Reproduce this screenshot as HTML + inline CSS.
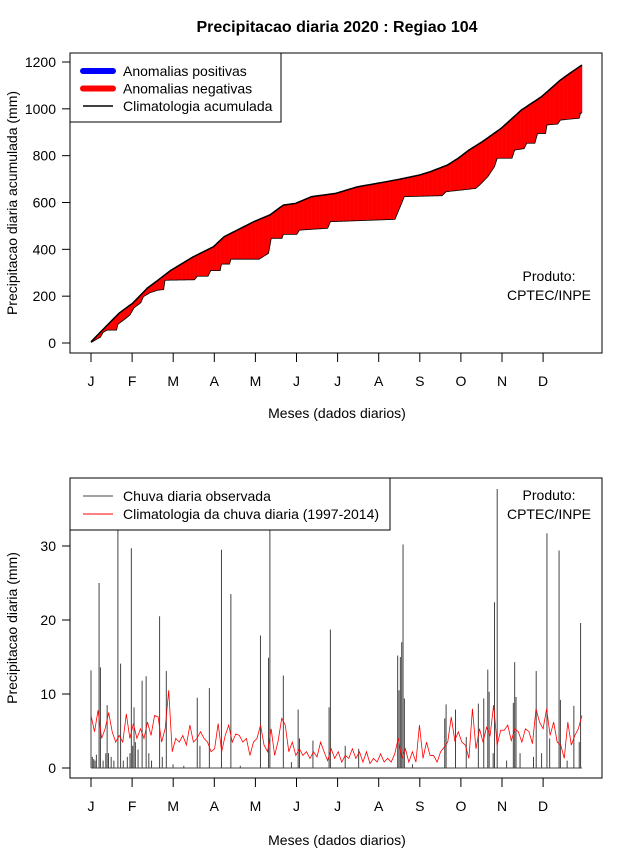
<!DOCTYPE html>
<html><head><meta charset="utf-8"><style>
body{margin:0;background:#fff;}
svg{display:block;font-family:"Liberation Sans",Arial,sans-serif;}
</style></head><body>
<svg id="c" width="640" height="850" xmlns="http://www.w3.org/2000/svg"></svg>
<script>
// ---------- DATA ----------
const monthLabels=["J","F","M","A","M","J","J","A","S","O","N","D"];
const topTicks=[0,200,400,600,800,1000,1200];
const botTicks=[0,10,20,30];
// climatology accumulated (days / mm)
const climAccDays=[1,12,22,32,43,51,60,77,92,100,122,134,144,153,165,183,199,214,230,245,253,266,274,282,292,306,321,336,350,357,366];
const climAccVals=[5,70,128,170,235,269,309,368,411,454,518,547,589,596,625,639,667,682,699,717,731,760,789,824,860,917,995,1052,1123,1152,1187];
// observed accumulated
const obsAccDays=[1,8,10,13,20,21,28,30,33,38,40,45,49,50,55,56,78,80,88,90,97,98,104,105,126,133,135,143,144,154,156,177,179,227,234,262,265,287,290,296,301,303,314,316,323,325,331,333,339,340,348,350,364,365,366];
const obsAccVals=[2,25,45,55,55,80,110,120,150,172,198,215,222,225,228,268,270,285,285,309,309,337,337,358,358,383,447,447,464,464,482,490,518,528,625,629,646,660,675,710,753,789,789,824,830,853,853,895,895,931,935,952,960,982,982];
// daily observed rain
const rainDays=[1,2,3,4,5,7,8,10,12,13,14,16,18,21,23,25,28,30,31,32,33,34,36,39,42,44,46,52,54,57,62,70,80,82,89,98,105,112,127,133,134,144,150,155,156,166,178,179,190,200,229,230,231,232,233,234,240,264,265,272,280,289,293,296,297,300,301,303,310,315,316,317,320,330,332,336,340,342,349,350,355,360,364,365];
const rainVals=[13.2,1.5,1.2,1,1.8,25,13.6,1,2,8.5,2,1.5,1,40,14.1,1,1.5,2,29.7,3,8.2,3.5,2.5,11.8,12.4,2,1,20.5,1.5,13.1,0.5,0.3,9.5,3,10.8,29.5,23.5,0.3,17.9,14.9,40,12.5,0.8,7.9,4,3.7,8.2,18.7,3,2.6,15.2,10.5,15,17,30.2,9.4,0.5,6.7,8.6,7.9,4.2,8.7,9.4,13.3,10.3,2,22.4,37.7,1,8.8,14.3,9.6,2,1.5,13.1,2,31.7,4,29.4,9.2,1,8.4,3.5,19.6];
// climatology daily rain (evenly spaced over year)
const climDaily=[7.1,4.9,7.8,4.0,5.3,7.5,4.9,3.5,4.4,3.5,7.3,4.0,6.0,4.0,5.3,4.0,6.2,4.4,7.1,6.9,3.5,5.3,10.5,2.2,4.0,3.5,4.4,3.1,5.8,3.5,4.0,4.9,4.0,3.5,2.2,2.6,6.0,2.2,4.4,5.8,3.5,4.6,4.4,3.5,4.0,1.7,3.5,4.0,5.8,3.1,2.2,5.3,1.7,3.7,6.7,5.8,2.2,3.5,1.7,2.6,1.7,2.2,1.3,2.2,1.5,3.5,2.2,1.0,2.6,1.3,2.2,0.8,1.7,1.3,2.6,1.3,2.2,0.8,2.2,0.6,1.3,0.8,1.9,0.8,1.3,0.8,1.9,4.0,1.3,2.6,0.8,2.2,0.8,5.8,1.3,3.5,1.7,1.7,0.8,2.2,2.8,3.5,6.9,3.7,4.9,3.5,3.1,1.3,8.0,2.6,5.3,3.5,5.5,4.4,8.5,3.1,5.1,5.1,5.8,3.7,5.3,4.9,3.5,5.3,4.9,3.3,8.0,6.2,5.3,8.0,4.4,6.2,3.5,3.1,1.3,6.2,3.1,4.4,5.3,7.1];

// ---------- HELPERS ----------
const svg=document.getElementById('c');const NS='http://www.w3.org/2000/svg';
function mk(t,a,p){const e=document.createElementNS(NS,t);for(const k in a)e.setAttribute(k,a[k]);(p||svg).appendChild(e);return e;}
function xDay(d){return 91+(d-1)*1.345;}
function yTop(v){return 343-v*(281/1200);}
function yBot(v){return 768-v*7.4;}
function interp(ds,vs,d){if(d<=ds[0])return vs[0];for(let i=1;i<ds.length;i++){if(d<=ds[i]){const t=(d-ds[i-1])/(ds[i]-ds[i-1]);return vs[i-1]+t*(vs[i]-vs[i-1]);}}return vs[vs.length-1];}
function txt(x,y,s,o){const e=mk('text',Object.assign({x:x,y:y,'font-size':14,fill:'#000'},o||{}));e.textContent=s;return e;}

let e;
e=txt(337,32,"Precipitacao diaria 2020 : Regiao 104",{'text-anchor':'middle','font-weight':'bold','font-size':16});


function xAxis(yLine,yLab,name){
  const g=mk('g',{});
  monthLabels.forEach((m,i)=>{const x=91+i*41.1;mk('line',{x1:x,x2:x,y1:yLine,y2:yLine+9,stroke:'#000'},g);
    const t=txt(x,yLab,m,{'text-anchor':'middle'});g.appendChild(t);});
}
function yAxis(ticks,fy,name){
  const g=mk('g',{});
  ticks.forEach(v=>{const y=fy(v);mk('line',{x1:62,x2:70,y1:y,y2:y,stroke:'#000'},g);
    const t=txt(56,y+5,String(v),{'text-anchor':'end'});g.appendChild(t);});
}

// ---------- TOP PLOT ----------
e=mk('rect',{x:70,y:53,width:532,height:300,fill:'none',stroke:'#000'});

const gA=mk('g',{});
for(let d=1;d<366;d++){
  const c0=interp(climAccDays,climAccVals,d),c1=interp(climAccDays,climAccVals,d+1);
  const o0=interp(obsAccDays,obsAccVals,d),o1=interp(obsAccDays,obsAccVals,d+1);
  const col=(o0+o1)>(c0+c1)?'#0000ff':'#ff0000';
  const p=mk('polygon',{points:`${xDay(d)},${yTop(c0)} ${xDay(d+1)+0.3},${yTop(c1)} ${xDay(d+1)+0.3},${yTop(o1)} ${xDay(d)},${yTop(o0)}`,fill:col,stroke:'none'},gA);
  
  
}
let pts=[];for(let d=1;d<=366;d++)pts.push(xDay(d)+','+yTop(interp(obsAccDays,obsAccVals,d)));
e=mk('polyline',{points:pts.join(' '),fill:'none',stroke:'#000','stroke-width':0.8});

pts=[];for(let d=1;d<=366;d++)pts.push(xDay(d)+','+yTop(interp(climAccDays,climAccVals,d)));
e=mk('polyline',{points:pts.join(' '),fill:'none',stroke:'#000','stroke-width':1.5});

xAxis(353,386,'top-x-axis');yAxis(topTicks,yTop,'top-y-axis');
e=txt(337,418,"Meses (dados diarios)",{'text-anchor':'middle'});
e=txt(0,0,"Precipitacao diaria acumulada (mm)",{'text-anchor':'middle',transform:'translate(17,203) rotate(-90)'});
e=txt(549,281,"Produto:",{'text-anchor':'middle'});
e=txt(549,300,"CPTEC/INPE",{'text-anchor':'middle'});
// legend
const lg=mk('g',{});
mk('rect',{x:70,y:53,width:211,height:69,fill:'#fff',stroke:'#000'},lg);
[["#0000ff",6,"Anomalias positivas","legend-positive"],["#ff0000",6,"Anomalias negativas","legend-negative"],["#000",1.5,"Climatologia acumulada","legend-climatology"]].forEach((r,i)=>{
  const y=71+i*17.5;const gi=mk('g',{},lg);
  mk('line',{x1:83,x2:113,y1:y,y2:y,stroke:r[0],'stroke-width':r[1],'stroke-linecap':r[1]>2?'round':'butt'},gi);
  gi.appendChild(txt(123,y+5,r[2]));
});

// ---------- BOTTOM PLOT ----------
e=mk('rect',{x:70,y:478,width:532,height:300,fill:'none',stroke:'#000'});

const cp=mk('clipPath',{id:'bc'});mk('rect',{x:70,y:478,width:532,height:300},cp);
const gR=mk('g',{'clip-path':'url(#bc)'});
rainDays.forEach((d,i)=>{const x=xDay(d);const l=mk('line',{x1:x,x2:x,y1:yBot(0),y2:yBot(rainVals[i]),stroke:'#444','stroke-width':1},gR);
  });
mk('line',{x1:xDay(1),x2:xDay(366),y1:yBot(0),y2:yBot(0),stroke:'#444','stroke-width':1},gR);
pts=climDaily.map((v,i)=>xDay(1+i*365/(climDaily.length-1))+','+yBot(v));
e=mk('polyline',{points:pts.join(' '),fill:'none',stroke:'#ff0000','stroke-width':0.8});

xAxis(778,811,'bottom-x-axis');yAxis(botTicks,yBot,'bottom-y-axis');
e=txt(337,845,"Meses (dados diarios)",{'text-anchor':'middle'});
e=txt(0,0,"Precipitacao diaria (mm)",{'text-anchor':'middle',transform:'translate(17,628) rotate(-90)'});
e=txt(549,500,"Produto:",{'text-anchor':'middle'});
e=txt(549,519,"CPTEC/INPE",{'text-anchor':'middle'});
const lg2=mk('g',{});
mk('rect',{x:70,y:478,width:320,height:52,fill:'#fff',stroke:'#000'},lg2);
[["#444","Chuva diaria observada","legend-observed"],["#ff0000","Climatologia da chuva diaria (1997-2014)","legend-clim-daily"]].forEach((r,i)=>{
  const y=496+i*18;const gi=mk('g',{},lg2);
  mk('line',{x1:83,x2:113,y1:y,y2:y,stroke:r[0],'stroke-width':1},gi);
  gi.appendChild(txt(123,y+5,r[1]));
});
</script>
</body></html>
